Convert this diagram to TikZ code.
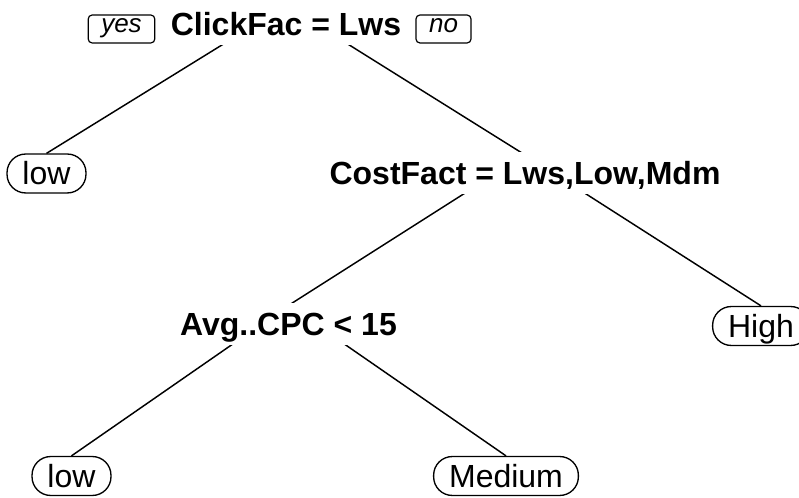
\documentclass[tikz,border=0pt]{standalone}
\usepackage{fontspec}
\setmainfont{Liberation Sans}
\usetikzlibrary{backgrounds}
\begin{document}
\begin{tikzpicture}[x=0.75pt,y=-0.75pt,
  split/.style={font=\fontsize{24}{28}\selectfont\bfseries, fill=white,
    inner xsep=6pt, inner ysep=7.15pt, text height=17.2pt, text depth=0pt},
  leaf/.style={draw, line width=1pt, rounded corners=14pt, fill=white,
    font=\fontsize{24}{28}\selectfont, inner xsep=11.6pt, inner ysep=6pt,
    text height=17.2pt, text depth=0pt},
  yesno/.style={draw, line width=0.9pt, rounded corners=3pt, fill=white,
    font=\fontsize{19.5}{22}\selectfont\itshape, inner xsep=9.8pt, inner ysep=0pt,
    minimum height=21pt, text height=10pt, text depth=4pt},
  branch/.style={line width=1.1pt}]
\useasboundingbox (0,0) rectangle (799,498);

% split labels
\node[split] (root) at (286,24) {ClickFac = Lws};
\node[split] (cost) at (525,173.5) {CostFact = Lws,Low,Mdm};
\node[split] (avg)  at (288.5,324) {Avg..CPC < 15};

% leaves
\node[leaf] (low1) at (46.5,173.5) {low};
\node[leaf] (high) at (761,326) {High};
\node[leaf] (low2) at (71.5,476) {low};
\node[leaf] (med)  at (506,476) {Medium};

% yes / no tags beside the root
\node[yesno] (yes) at (121.5,29) {yes};
\node[yesno] (no)  at (443.5,29) {no};

% branch start points, just inside the top of each split label
\coordinate (rootT) at ([yshift=-2pt]root.north);
\coordinate (costT) at ([yshift=-2pt]cost.north);
\coordinate (avgT)  at ([yshift=-2pt]avg.north);

% branches, hidden behind the white label boxes
\begin{pgfonlayer}{background}
  \draw[branch] (rootT) -- (low1.north);
  \draw[branch] (rootT) -- (costT);
  \draw[branch] (costT) -- (avgT);
  \draw[branch] (costT) -- (high.north);
  \draw[branch] (avgT) -- (low2.north);
  \draw[branch] (avgT) -- (med.north);
\end{pgfonlayer}
\end{tikzpicture}
\end{document}
